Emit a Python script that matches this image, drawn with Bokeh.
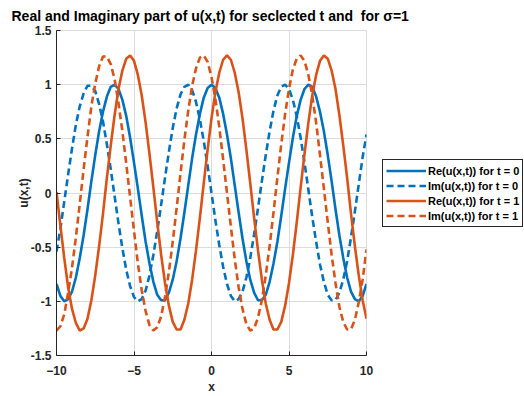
from bokeh.plotting import figure
from bokeh.models import Legend, LegendItem, FixedTicker
from bokeh.layouts import row, column
from bokeh.embed import file_html
from bokeh.resources import INLINE

# x sample positions
x = [-10.0, -9.75, -9.5, -9.25, -9.0, -8.75, -8.5, -8.25, -8.0, -7.75, -7.5, -7.25, -7.0, -6.75, -6.5, -6.25,
     -6.0, -5.75, -5.5, -5.25, -5.0, -4.75, -4.5, -4.25, -4.0, -3.75, -3.5, -3.25, -3.0, -2.75, -2.5, -2.25,
     -2.0, -1.75, -1.5, -1.25, -1.0, -0.75, -0.5, -0.25, 0.0, 0.25, 0.5, 0.75, 1.0, 1.25, 1.5, 1.75,
     2.0, 2.25, 2.5, 2.75, 3.0, 3.25, 3.5, 3.75, 4.0, 4.25, 4.5, 4.75, 5.0, 5.25, 5.5, 5.75,
     6.0, 6.25, 6.5, 6.75, 7.0, 7.25, 7.5, 7.75, 8.0, 8.25, 8.5, 8.75, 9.0, 9.25, 9.5, 9.75, 10.0]

# Re(u(x,t)) for t = 0
re_t0 = [-0.84, -0.95, -1.00, -0.98, -0.91, -0.78, -0.60, -0.39, -0.15, 0.11, 0.35, 0.57, 0.75, 0.89, 0.98, 1.00,
         0.96, 0.86, 0.71, 0.51, 0.28, 0.04, -0.21, -0.45, -0.65, -0.82, -0.94, -0.99, -0.99, -0.92, -0.80, -0.63,
         -0.42, -0.18, 0.07, 0.32, 0.54, 0.73, 0.88, 0.97, 1.00, 0.97, 0.88, 0.73, 0.54, 0.32, 0.07, -0.18,
         -0.42, -0.63, -0.80, -0.92, -0.99, -0.99, -0.94, -0.82, -0.65, -0.45, -0.21, 0.04, 0.28, 0.51, 0.71, 0.86,
         0.96, 1.00, 0.98, 0.89, 0.75, 0.57, 0.35, 0.11, -0.15, -0.39, -0.60, -0.78, -0.91, -0.98, -1.00, -0.95, -0.84]

# Im(u(x,t)) for t = 0
im_t0 = [-0.54, -0.33, -0.08, 0.17, 0.41, 0.63, 0.80, 0.92, 0.99, 0.99, 0.94, 0.82, 0.66, 0.45, 0.22, -0.03,
         -0.28, -0.51, -0.71, -0.86, -0.96, -1.00, -0.98, -0.90, -0.76, -0.57, -0.35, -0.11, 0.14, 0.38, 0.60, 0.78,
         0.91, 0.98, 1.00, 0.95, 0.84, 0.68, 0.48, 0.25, 0.00, -0.25, -0.48, -0.68, -0.84, -0.95, -1.00, -0.98,
         -0.91, -0.78, -0.60, -0.38, -0.14, 0.11, 0.35, 0.57, 0.76, 0.90, 0.98, 1.00, 0.96, 0.86, 0.71, 0.51,
         0.28, 0.03, -0.22, -0.45, -0.66, -0.82, -0.94, -0.99, -0.99, -0.92, -0.80, -0.63, -0.41, -0.17, 0.08, 0.33, 0.54]

# Re(u(x,t)) for t = 1
re_t1 = [0.01, -0.30, -0.60, -0.87, -1.07, -1.20, -1.27, -1.25, -1.16, -0.99, -0.76, -0.49, -0.19, 0.14, 0.44, 0.72,
         0.96, 1.13, 1.24, 1.27, 1.22, 1.09, 0.90, 0.65, 0.36, 0.05, -0.27, -0.57, -0.83, -1.04, -1.19, -1.26,
         -1.26, -1.17, -1.02, -0.80, -0.53, -0.23, 0.09, 0.40, 0.69, 0.93, 1.11, 1.23, 1.27, 1.23, 1.11, 0.93,
         0.69, 0.40, 0.09, -0.23, -0.53, -0.80, -1.02, -1.17, -1.26, -1.26, -1.19, -1.04, -0.83, -0.57, -0.27, 0.05,
         0.36, 0.65, 0.90, 1.09, 1.22, 1.27, 1.24, 1.13, 0.96, 0.72, 0.44, 0.14, -0.19, -0.49, -0.76, -0.99, -1.16]

# Im(u(x,t)) for t = 1
im_t1 = [-1.27, -1.23, -1.12, -0.92, -0.69, -0.41, -0.10, 0.22, 0.52, 0.80, 1.01, 1.17, 1.26, 1.26, 1.19, 1.05,
         0.83, 0.57, 0.27, -0.04, -0.35, -0.65, -0.90, -1.09, -1.22, -1.27, -1.24, -1.14, -0.96, -0.73, -0.45, -0.14,
         0.18, 0.49, 0.76, 0.99, 1.15, 1.25, 1.27, 1.21, 1.07, 0.87, 0.61, 0.31, 0.00, -0.31, -0.61, -0.87,
         -1.07, -1.21, -1.27, -1.25, -1.15, -0.99, -0.76, -0.49, -0.18, 0.14, 0.45, 0.73, 0.96, 1.14, 1.24, 1.27,
         1.22, 1.09, 0.90, 0.65, 0.35, 0.04, -0.27, -0.57, -0.83, -1.05, -1.19, -1.26, -1.26, -1.17, -1.01, -0.80, -0.52]

legend_labels = ["Re(u(x,t)) for t = 0", "Im(u(x,t)) for t = 0",
                 "Re(u(x,t)) for t = 1", "Im(u(x,t)) for t = 1"]
x_ticks = [-10, -5, 0, 5, 10]
y_ticks = [-1.5, -1, -0.5, 0, 0.5, 1, 1.5]
y_tick_labels = ["-1.5", "-1", "-0.5", "0", "0.5", "1", "1.5"]
title_text = "Real and Imaginary part of u(x,t) for seclected t and \u00a0for \u03c3=1"

BLUE = "#0072BD"
ORANGE = "#D95319"
FONT = "Liberation Sans"
DARK = "#262626"
GRID = "#dcdcdc"
LW = 2.6
DASH = "7 4"

# ---- title strip (spans the whole width, like the reference) ----
tf = figure(width=524, height=25, x_range=(0, 1), y_range=(0, 1), title=title_text,
            output_backend="svg", toolbar_location=None,
            min_border_top=23, min_border_left=0, min_border_right=0, min_border_bottom=0,
            x_axis_type=None, y_axis_type=None)
tf.outline_line_color = None
tf.grid.visible = False
tf.border_fill_color = "white"
tf.background_fill_color = "white"
tf.title.align = "left"
tf.title.offset = 11
tf.title.standoff = 0
tf.title.text_font = FONT
tf.title.text_font_style = "bold"
tf.title.text_font_size = "14px"
tf.title.text_color = "black"

# ---- main axes ----
p = figure(width=376, height=371, x_range=(-10, 10), y_range=(-1.5, 1.5),
           output_backend="svg", toolbar_location=None,
           min_border_left=56, min_border_right=10, min_border_top=5, min_border_bottom=39)
p.background_fill_color = "white"
p.border_fill_color = "white"
p.outline_line_color = GRID

p.line(x, re_t0, line_color=BLUE, line_width=LW)
p.line(x, im_t0, line_color=BLUE, line_width=LW, line_dash=DASH)
p.line(x, re_t1, line_color=ORANGE, line_width=LW)
p.line(x, im_t1, line_color=ORANGE, line_width=LW, line_dash=DASH)

p.xaxis.ticker = FixedTicker(ticks=x_ticks)
p.yaxis.ticker = FixedTicker(ticks=y_ticks)
p.yaxis.major_label_overrides = {t: l for t, l in zip(y_ticks, y_tick_labels)}
p.xaxis.axis_label = "x"
p.yaxis.axis_label = "u(x,t)"

for ax in (p.xaxis[0], p.yaxis[0]):
    ax.axis_line_color = DARK
    ax.axis_line_width = 1
    ax.major_tick_line_color = DARK
    ax.major_tick_in = 4
    ax.major_tick_out = 0
    ax.minor_tick_line_color = None
    ax.major_label_text_font = FONT
    ax.major_label_text_font_style = "bold"
    ax.major_label_text_font_size = "12px"
    ax.major_label_text_color = DARK
    ax.axis_label_text_font = FONT
    ax.axis_label_text_font_style = "bold"
    ax.axis_label_text_font_size = "12px"
    ax.axis_label_text_color = DARK
p.xaxis.major_label_standoff = 10
p.xaxis.axis_label_standoff = 2
p.yaxis.major_label_standoff = 5
p.yaxis.axis_label_standoff = -3

p.xgrid.grid_line_color = GRID
p.ygrid.grid_line_color = GRID
p.xgrid.grid_line_width = 1
p.ygrid.grid_line_width = 1

# ---- legend panel outside the axes (right side) ----
q = figure(width=148, height=371, x_range=(100, 101), y_range=(100, 101),
           output_backend="svg", toolbar_location=None,
           min_border=0, x_axis_type=None, y_axis_type=None)
q.outline_line_color = None
q.grid.visible = False
q.background_fill_color = "white"
q.border_fill_color = "white"
g1 = q.line(x, re_t0, line_color=BLUE, line_width=LW)
g2 = q.line(x, im_t0, line_color=BLUE, line_width=LW, line_dash=DASH)
g3 = q.line(x, re_t1, line_color=ORANGE, line_width=LW)
g4 = q.line(x, im_t1, line_color=ORANGE, line_width=LW, line_dash=DASH)

legend = Legend(items=[LegendItem(label=legend_labels[0], renderers=[g1]),
                       LegendItem(label=legend_labels[1], renderers=[g2]),
                       LegendItem(label=legend_labels[2], renderers=[g3]),
                       LegendItem(label=legend_labels[3], renderers=[g4])],
                location=(6, 128))
legend.border_line_color = DARK
legend.border_line_width = 1
legend.border_line_alpha = 1
legend.background_fill_color = "white"
legend.background_fill_alpha = 1
legend.padding = 3
legend.spacing = 0
legend.margin = 0
legend.glyph_width = 40
legend.glyph_height = 15
legend.label_height = 15
legend.label_standoff = 2
legend.label_text_font = FONT
legend.label_text_font_style = "bold"
legend.label_text_font_size = "11px"
legend.label_text_color = "black"
q.add_layout(legend)

layout = column(tf, row(p, q, spacing=0), spacing=0)
open("out.html", "w").write(file_html(layout, INLINE))
